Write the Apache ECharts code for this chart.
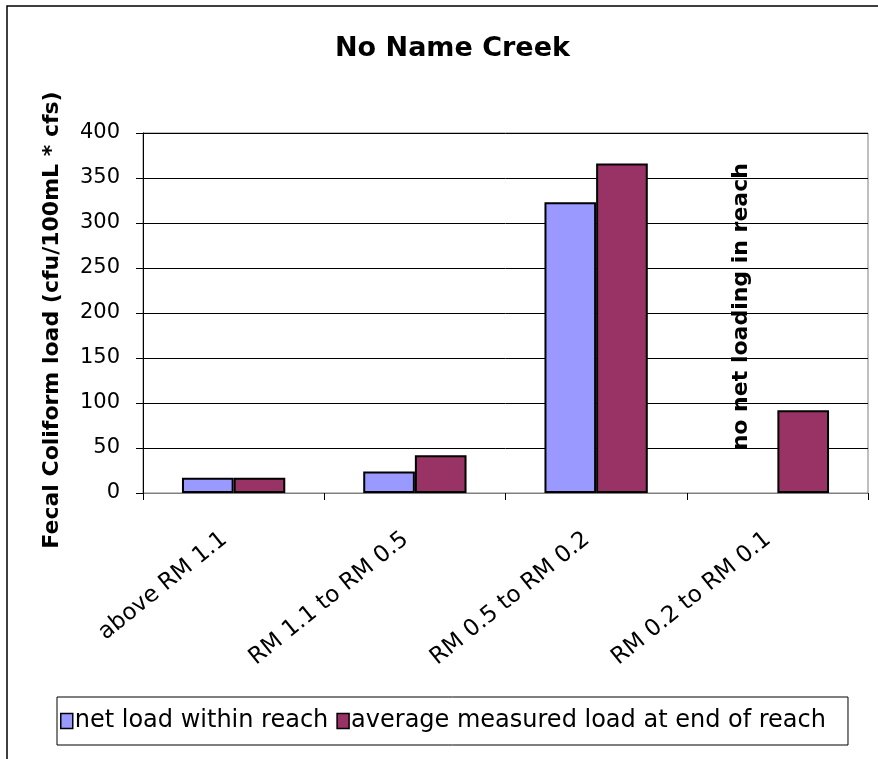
<!DOCTYPE html>
<html>
<head>
<meta charset="utf-8">
<script src="https://cdn.jsdelivr.net/npm/echarts@6/dist/echarts.min.js"></script>
<style>
  html, body { margin: 0; padding: 0; background: #fff; }
  #main { width: 878px; height: 759px; }
</style>
</head>
<body>
<div id="main"></div>
<script>
// data
var categories = ['above RM 1.1', 'RM 1.1 to RM 0.5', 'RM 0.5 to RM 0.2', 'RM 0.2 to RM 0.1'];
var netLoad = [17, 24, 323, null];
var measuredLoad = [17, 42, 366, 92];
var seriesNames = ['net load within reach', 'average measured load at end of reach'];
// note on the last reach, placed in data units
var noteText = 'no net loading in reach';
var noteCategory = 'RM 0.2 to RM 0.1';
var noteValue = 207;

var chart = echarts.init(document.getElementById('main'));

var option = {
    backgroundColor: '#fff',
    animation: false,
    title: {
        text: 'No Name Creek',
        left: 330,
        top: 30,
        textStyle: {
            fontFamily: 'DejaVu Sans',
            fontSize: 27,
            fontWeight: 'bold',
            color: '#000'
        }
    },
    legend: {
        left: 57,
        top: 697,
        orient: 'horizontal',
        padding: [12, 22, 12, 3],
        icon: 'rect',
        itemWidth: 12,
        itemHeight: 15,
        itemGap: 8,
        borderColor: '#000',
        borderWidth: 1,
        itemStyle: { borderColor: '#000', borderWidth: 1.5 },
        textStyle: {
            fontFamily: 'DejaVu Sans',
            fontSize: 24,
            color: '#000',
            padding: [0, 0, 0, -3]
        },
        data: seriesNames
    },
    grid: {
        left: 143,
        right: 10,
        top: 133,
        bottom: 266,
        show: true,
        borderColor: '#808080',
        borderWidth: 1,
        containLabel: false
    },
    xAxis: {
        type: 'category',
        data: categories,
        axisLine: { lineStyle: { color: '#808080', width: 1 } },
        axisTick: { show: true, length: 7, lineStyle: { color: '#000' } },
        axisLabel: {
            rotate: 39,
            margin: 36,
            interval: 0,
            padding: [0, 12, 0, 0],
            fontFamily: 'DejaVu Sans',
            fontSize: 23,
            color: '#000'
        }
    },
    yAxis: {
        type: 'value',
        min: 0,
        max: 400,
        interval: 50,
        name: 'Fecal Coliform load (cfu/100mL * cfs)',
        nameLocation: 'middle',
        nameGap: 80,
        nameTextStyle: {
            fontFamily: 'DejaVu Sans',
            fontSize: 22,
            fontWeight: 'bold',
            color: '#000',
            padding: [0, 14, 0, 0]
        },
        axisLine: { show: true, lineStyle: { color: '#000', width: 1 } },
        axisTick: { show: true, length: 7, lineStyle: { color: '#000' } },
        axisLabel: {
            margin: 23,
            fontFamily: 'DejaVu Sans',
            fontSize: 21,
            color: '#000'
        },
        splitLine: { show: true, lineStyle: { color: '#000', width: 1 } }
    },
    series: [
        {
            name: seriesNames[0],
            type: 'bar',
            data: netLoad,
            barGap: '0%',
            barCategoryGap: '43%',
            itemStyle: { color: '#9999FF', borderColor: '#000', borderWidth: 2 }
        },
        {
            name: seriesNames[1],
            type: 'bar',
            data: measuredLoad,
            itemStyle: { color: '#993366', borderColor: '#000', borderWidth: 2 }
        }
    ]
};

chart.setOption(option);

// vertical note + outer frame, positioned through the axes
var notePos = chart.convertToPixel({ xAxisIndex: 0, yAxisIndex: 0 }, [noteCategory, noteValue]);
chart.setOption({
    graphic: [
        {
            type: 'rect',
            shape: { x: 7, y: 6, width: 900, height: 800 },
            style: { fill: 'none', stroke: '#000', lineWidth: 1.5 },
            silent: true
        },
        {
            type: 'text',
            x: notePos[0] - 36,
            y: notePos[1],
            rotation: Math.PI / 2,
            style: {
                text: noteText,
                fontFamily: 'DejaVu Sans',
                fontSize: 22,
                fontWeight: 'bold',
                fill: '#000',
                align: 'center',
                verticalAlign: 'middle'
            }
        }
    ]
});
</script>
</body>
</html>
